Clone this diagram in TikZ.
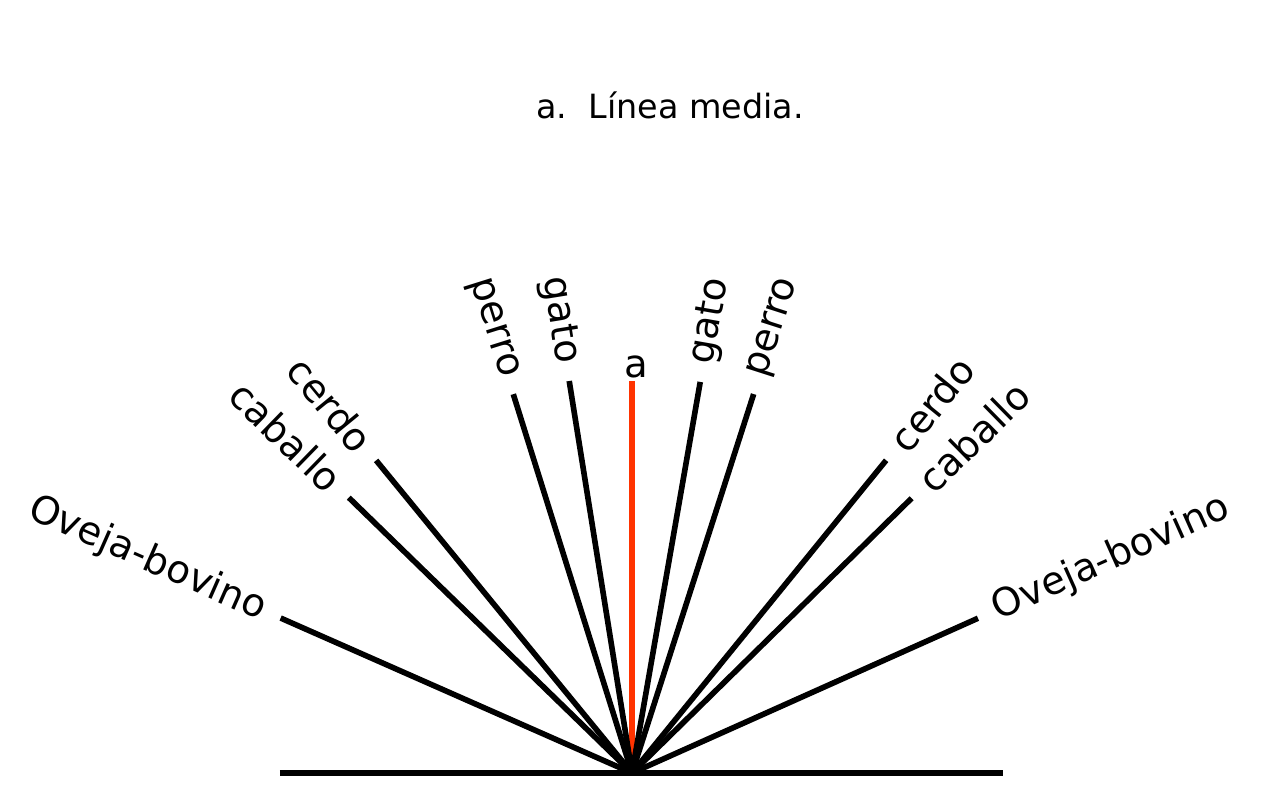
\documentclass[tikz,border=0pt]{standalone}
\usepackage{fontspec}
\setmainfont{DejaVu Sans}
\usetikzlibrary{positioning}
\definecolor{rayred}{RGB}{255,51,0}

\begin{document}
\begin{tikzpicture}[x=0.02cm,y=0.02cm,
    ray/.style={line width=3.2pt},
    lbl/.style={font=\fontsize{22}{26}\selectfont,inner sep=1pt}]
  \useasboundingbox (-632,-26) rectangle (635,773);
  \node[lbl,font=\fontsize{19}{23}\selectfont] (title) at (38,668) {a.\ \ Línea media.};
  \coordinate (o) at (0,0);
  % midline
  \coordinate (a-end) at (90:392);
  \draw[ray,rayred,line width=3.8pt] (o) -- (a-end);
  \node[lbl,anchor=base] (a) at (4,396) {a};
  \coordinate (base-l) at (-352,0);
  \coordinate (base-r) at (371,0);
  \draw[ray] (base-l) -- (base-r);
  % left side: text runs down towards the ray
  \foreach \n/\a/\l/\t in {lov/156.2/384/Oveja-bovino, lcab/135.8/395/caballo,
      lcer/129.3/404/cerdo, lper/107.4/397/perro, lgat/99.1/397/gato}{
    \coordinate (\n-end) at (\a:\l);
    \draw[ray] (o) -- (\n-end);
    \node[lbl,anchor=east,rotate=\a-180] (\n) at ({\a}:{\l+16}) {\t};
  }
  % right side: text runs up away from the ray
  \foreach \n/\a/\l/\t in {rgat/80.1/397/gato, rper/72.2/398/perro,
      rcer/50.9/403/cerdo, rcab/44.5/392/caballo, rov/24.1/379/Oveja-bovino}{
    \coordinate (\n-end) at (\a:\l);
    \draw[ray] (o) -- (\n-end);
    \node[lbl,anchor=west,rotate=\a] (\n) at ({\a}:{\l+16}) {\t};
  }
\end{tikzpicture}
\end{document}
